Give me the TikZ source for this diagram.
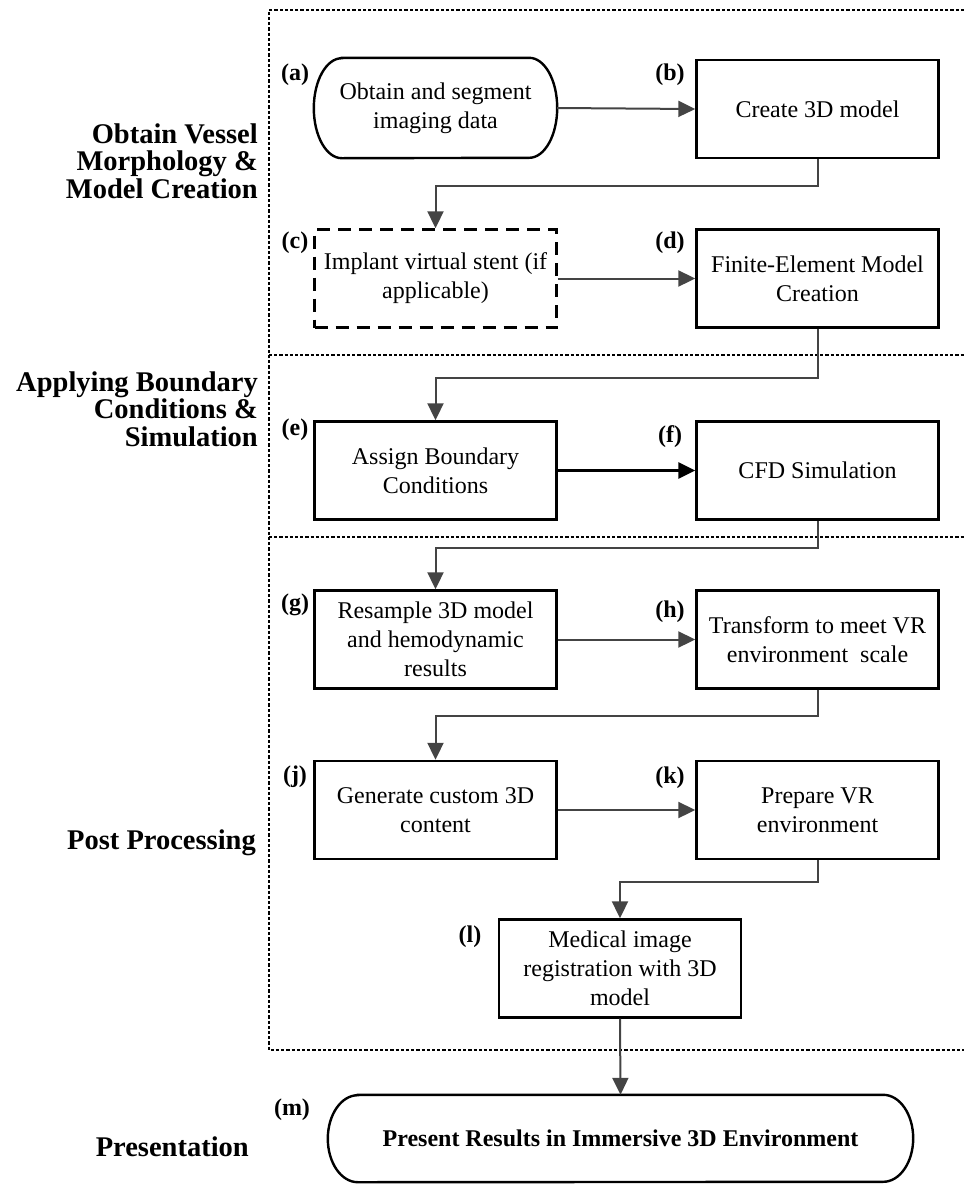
\documentclass[tikz,border=0pt]{standalone}
\usepackage{fontspec}
\setmainfont{Liberation Serif}
\usetikzlibrary{arrows.meta}
\definecolor{conncol}{HTML}{444444}
\begin{document}
\begin{tikzpicture}[x=1pt,y=-1pt,
  boxtext/.style={font=\fontsize{24}{29}\selectfont, align=center},
  proc/.style={draw=black, line width=2.4pt, minimum width=242pt, minimum height=98pt, inner sep=1pt, boxtext},
  dproc/.style={proc, dash pattern=on 13pt off 8pt},
  term/.style={draw=none, inner sep=1pt, boxtext},
  termline/.style={draw=black, line width=2.4pt},
  lab/.style={font=\bfseries\fontsize{24}{26}\selectfont, inner sep=0pt},
  sect/.style={font=\bfseries\fontsize{28.5}{27.5}\selectfont, align=right, anchor=east, inner sep=0pt},
  conn/.style={draw=conncol, line width=2pt, -{Triangle[length=17pt,width=16pt]}},
  connk/.style={draw=black, line width=2.8pt, -{Triangle[length=17pt,width=16pt]}},
  frame/.style={draw=black, line width=1.8pt, dash pattern=on 3.2pt off 2pt}
]
\useasboundingbox (0,0) rectangle (964,1184);

% section frame
\draw[frame] (964,10) -- (269,10) -- (269,1050) -- (964,1050);
\draw[frame] (269,355) -- (964,355);
\draw[frame] (269,537) -- (964,537);

% section titles
\node[sect] (s1) at (258,161) {Obtain Vessel\\Morphology \&\\Model Creation};
\node[sect] (s2) at (258,409) {Applying Boundary\\Conditions \&\\Simulation};
\node[sect] (s3) at (256,843) {Post Processing};
\node[sect] (s4) at (249,1147) {Presentation};

% nodes
\node[term, minimum width=243pt, minimum height=100pt] (a) at (435.5,108) {Obtain and segment\\imaging data};
\draw[termline] ([xshift=28pt]a.north west) -- ([xshift=-28pt]a.north east)
  arc[start angle=90, end angle=-90, x radius=28pt, y radius=50pt]
  -- ([xshift=28pt]a.south west)
  arc[start angle=270, end angle=90, x radius=28pt, y radius=50pt] -- cycle;
\node[proc] (b) at (817.5,109) {Create 3D model};
\node[dproc] (c) at (435.5,278.5) {Implant virtual stent (if\\applicable)};
\node[proc] (d) at (817.5,278.5) {Finite-Element Model\\Creation};
\node[proc] (e) at (435.5,470.5) {Assign Boundary\\Conditions};
\node[proc] (f) at (817.5,470.5) {CFD Simulation};
\node[proc] (g) at (435.5,639.5) {Resample 3D model\\and hemodynamic\\results};
\node[proc] (h) at (817.5,639.5) {Transform to meet VR\\environment\ \ scale};
\node[proc] (j) at (435.5,810) {Generate custom 3D\\content};
\node[proc] (k) at (817.5,810) {Prepare VR\\environment};
\node[proc] (l) at (620,968.5) {Medical image\\registration with 3D\\model};
\node[term, minimum width=585pt, minimum height=87pt, font=\bfseries\fontsize{24}{29}\selectfont] (m) at (620.5,1138.5) {Present Results in Immersive 3D Environment};
\draw[termline] ([xshift=30pt]m.north west) -- ([xshift=-30pt]m.north east)
  arc[start angle=90, end angle=-90, x radius=30pt, y radius=43.5pt]
  -- ([xshift=30pt]m.south west)
  arc[start angle=270, end angle=90, x radius=30pt, y radius=43.5pt] -- cycle;

% labels
\node[lab] (la) at (295,75) {(a)};
\node[lab] (lb) at (670,75) {(b)};
\node[lab] (lc) at (295,243) {(c)};
\node[lab] (ld) at (670,243) {(d)};
\node[lab] (le) at (295,430) {(e)};
\node[lab] (lf) at (670,437) {(f)};
\node[lab] (lg) at (295,605) {(g)};
\node[lab] (lh) at (670,612) {(h)};
\node[lab] (lj) at (295,777) {(j)};
\node[lab] (lk) at (670,778) {(k)};
\node[lab] (ll) at (470,937) {(l)};
\node[lab] (lm) at (292,1110) {(m)};

% connectors
\draw[conn] (a.east) -- (b.west);
\draw[conn] (b.south) -- ++(0,27) -| (c.north);
\draw[conn] (c.east) -- (d.west);
\draw[conn] (d.south) -- ++(0,49) -| (e.north);
\draw[connk] (e.east) -- (f.west);
\draw[conn] (f.south) -- ++(0,27) -| (g.north);
\draw[conn] (g.east) -- (h.west);
\draw[conn] (h.south) -- ++(0,26) -| (j.north);
\draw[conn] (j.east) -- (k.west);
\draw[conn] (k.south) -- ++(0,22) -| (l.north);
\draw[conn] (l.south) -- (m.north);
\end{tikzpicture}
\end{document}
